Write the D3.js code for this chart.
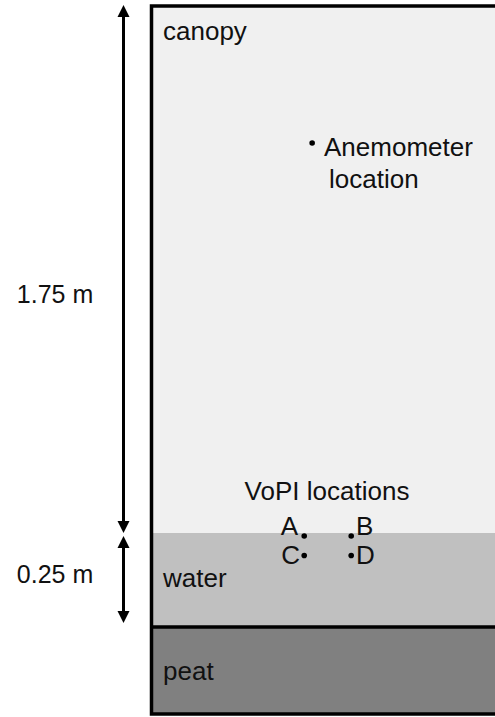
<!DOCTYPE html>
<html>
<head>
<meta charset="utf-8">
<script src="https://cdn.jsdelivr.net/npm/d3@7"></script>
<style>
  html, body { margin: 0; padding: 0; background: #fff; }
  svg { display: block; }
  text { font-family: "Liberation Sans", Arial, sans-serif; fill: #111; }
</style>
</head>
<body>
<svg id="chart" width="495" height="717"></svg>
<script>
// ---- data ----
const layerNames = ["canopy", "water", "peat"];
const layerTops = [2.0, 0.25, 0.0];        // m, relative to peat surface
const layerBottoms = [0.25, 0.0, -0.25];
const layerColors = ["#f0f0f0", "#c0c0c0", "#808080"];

const dimLabels = ["1.75 m", "0.25 m"];
const dimFrom = [2.0, 0.25];
const dimTo = [0.25, 0.0];

const pointNames = ["Anemometer", "A", "B", "C", "D"];
const pointX = [0.465, 0.442, 0.578, 0.442, 0.578];
const pointZ = [1.545, 0.242, 0.242, 0.19, 0.19];

// ---- scales ----
const svg = d3.select("#chart");
const y = d3.scaleLinear().domain([2.0, 0.25, 0.0, -0.25]).range([6, 533, 627, 714]);
const x = d3.scaleLinear().domain([0, 1]).range([151.5, 497]);
const FS = 26;

// layers
svg.selectAll("rect.layer").data(layerNames).enter().append("rect")
  .attr("class", "layer")
  .attr("x", x(0)).attr("width", x(1) - x(0) + 10)
  .attr("y", (d, i) => y(layerTops[i]))
  .attr("height", (d, i) => y(layerBottoms[i]) - y(layerTops[i]))
  .attr("fill", (d, i) => layerColors[i]);

// peat surface line
svg.append("line")
  .attr("x1", x(0)).attr("x2", x(1) + 10)
  .attr("y1", y(0)).attr("y2", y(0))
  .attr("stroke", "#000").attr("stroke-width", 3.5);

// outer border
svg.append("rect")
  .attr("x", x(0)).attr("y", y(2.0))
  .attr("width", x(1) - x(0) + 20)
  .attr("height", y(-0.25) - y(2.0))
  .attr("fill", "none").attr("stroke", "#000").attr("stroke-width", 3.5);

// layer labels
const labelY = [40, 587, 680];
svg.selectAll("text.layer").data(layerNames).enter().append("text")
  .attr("class", "layer")
  .attr("x", 163)
  .attr("y", (d, i) => labelY[i])
  .attr("font-size", FS)
  .text(d => d);

// dimension arrows
const ax = 123.5;
const head = 6, headLen = 12;
dimLabels.forEach((lab, i) => {
  const y1 = y(dimFrom[i]) - (i === 0 ? 1 : -3);
  const y2 = y(dimTo[i]) - (i === 0 ? 0 : 4);
  svg.append("line")
    .attr("x1", ax).attr("x2", ax)
    .attr("y1", y1 + 4).attr("y2", y2 - 4)
    .attr("stroke", "#000").attr("stroke-width", 3);
  svg.append("path")
    .attr("d", `M${ax},${y1} L${ax - head},${y1 + headLen} L${ax + head},${y1 + headLen} Z`)
    .attr("fill", "#000");
  svg.append("path")
    .attr("d", `M${ax},${y2} L${ax - head},${y2 - headLen} L${ax + head},${y2 - headLen} Z`)
    .attr("fill", "#000");
  svg.append("text")
    .attr("x", 55).attr("y", i === 0 ? 303 : 583)
    .attr("text-anchor", "middle")
    .attr("font-size", FS - 1)
    .text(lab);
});

// points
svg.selectAll("circle.pt").data(pointNames).enter().append("circle")
  .attr("class", "pt")
  .attr("cx", (d, i) => x(pointX[i]))
  .attr("cy", (d, i) => y(pointZ[i]))
  .attr("r", 2.8)
  .attr("fill", "#000");

// point labels
svg.append("text").attr("x", 324).attr("y", 156).attr("font-size", FS).text("Anemometer");
svg.append("text").attr("x", 329).attr("y", 188).attr("font-size", FS).text("location");
svg.append("text").attr("x", 327).attr("y", 500).attr("text-anchor", "middle").attr("font-size", FS).text("VoPI locations");
svg.append("text").attr("x", 298).attr("y", 535).attr("text-anchor", "end").attr("font-size", FS).text("A");
svg.append("text").attr("x", 356).attr("y", 535).attr("font-size", FS).text("B");
svg.append("text").attr("x", 300).attr("y", 564).attr("text-anchor", "end").attr("font-size", FS).text("C");
svg.append("text").attr("x", 356).attr("y", 564).attr("font-size", FS).text("D");
</script>
</body>
</html>
